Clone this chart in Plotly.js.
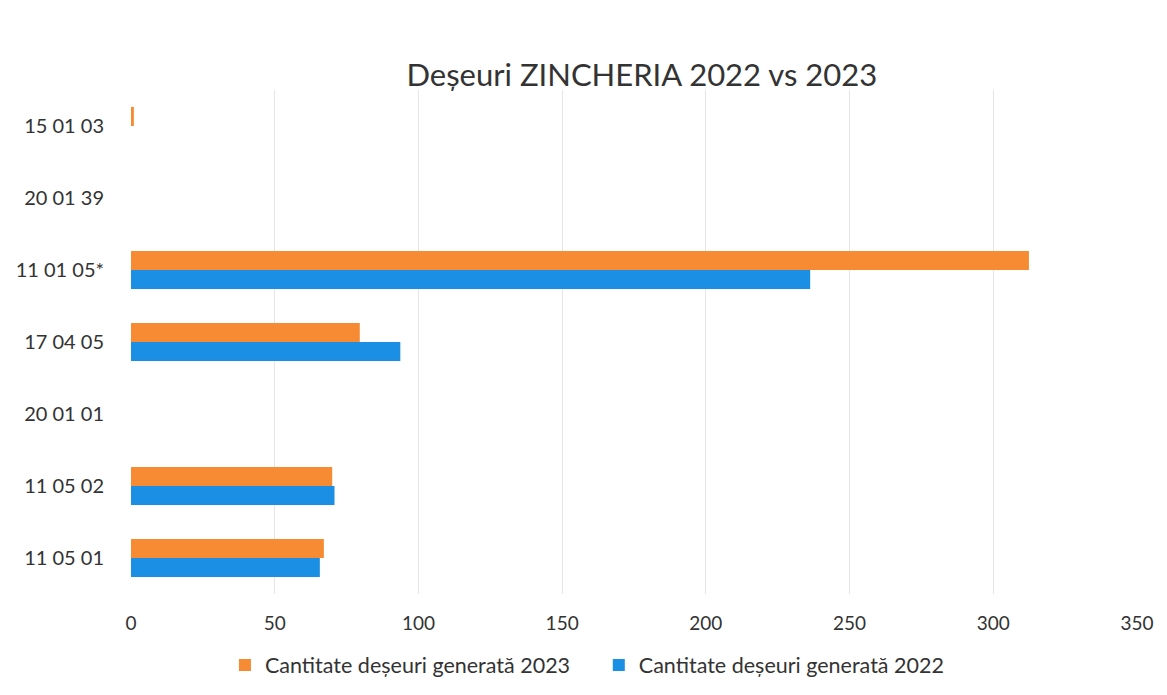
<!DOCTYPE html>
<html><head><meta charset="utf-8">
<script src="https://cdn.plot.ly/plotly-3.0.1.min.js"></script>
<style>html,body{margin:0;padding:0;background:#fff}#c{width:1167px;height:695px}</style>
</head><body><div id="c"></div>
<script>
const categories = ["11 05 01","11 05 02","20 01 01","17 04 05","11 01 05*","20 01 39","15 01 03"];
const values2022 = [65.7, 70.8, null, 93.7, 236.3, null, null];
const values2023 = [67.1, 70.0, null, 79.6, 312.4, null, 1.0];
const seriesNames = ["Cantitate deșeuri generată 2022","Cantitate deșeuri generată 2023"];
const xTicks = [0,50,100,150,200,250,300,350];

const font = "Lato, 'Open Sans', sans-serif";
const data = [
  {type:'bar', orientation:'h', y:categories, x:values2022, name:seriesNames[0], marker:{color:'#1A8FE3'}, legend:'legend2'},
  {type:'bar', orientation:'h', y:categories, x:values2023, name:seriesNames[1], marker:{color:'#F68B33'}, legend:'legend'}
];
const legendBase = {orientation:'h', xanchor:'left', y:-0.1, yanchor:'top', font:{size:21.5, color:'#333'}, itemwidth:30, bgcolor:'rgba(0,0,0,0)'};
const layout = {
  width:1167, height:695,
  margin:{l:131, r:30, t:90, b:101, autoexpand:false},
  paper_bgcolor:'#fff', plot_bgcolor:'#fff',
  font:{family:font, color:'#333', size:18},
  title:{text:'Deșeuri ZINCHERIA 2022 vs 2023', x:0.55, xanchor:'center', y:0.892, yanchor:'middle', font:{family:font, size:31, color:'#333'}},
  barmode:'group', bargap:0.47, bargroupgap:0,
  xaxis:{range:[0,350], tickvals:xTicks, showgrid:true, gridcolor:'#e6e6e6', zeroline:false, showline:false, ticks:'outside', ticklen:12, tickcolor:'rgba(0,0,0,0)', tickfont:{size:19, color:'#333'}, fixedrange:true},
  yaxis:{type:'category', categoryorder:'array', categoryarray:categories, showgrid:false, zeroline:false, showline:false, ticks:'outside', ticklen:22, tickcolor:'rgba(0,0,0,0)', tickfont:{size:20, color:'#333'}},
  showlegend:true,
  legend:Object.assign({}, legendBase, {x:0.0934}),
  legend2:Object.assign({}, legendBase, {x:0.465})
};
Plotly.newPlot('c', data, layout, {staticPlot:true});
</script></body></html>
